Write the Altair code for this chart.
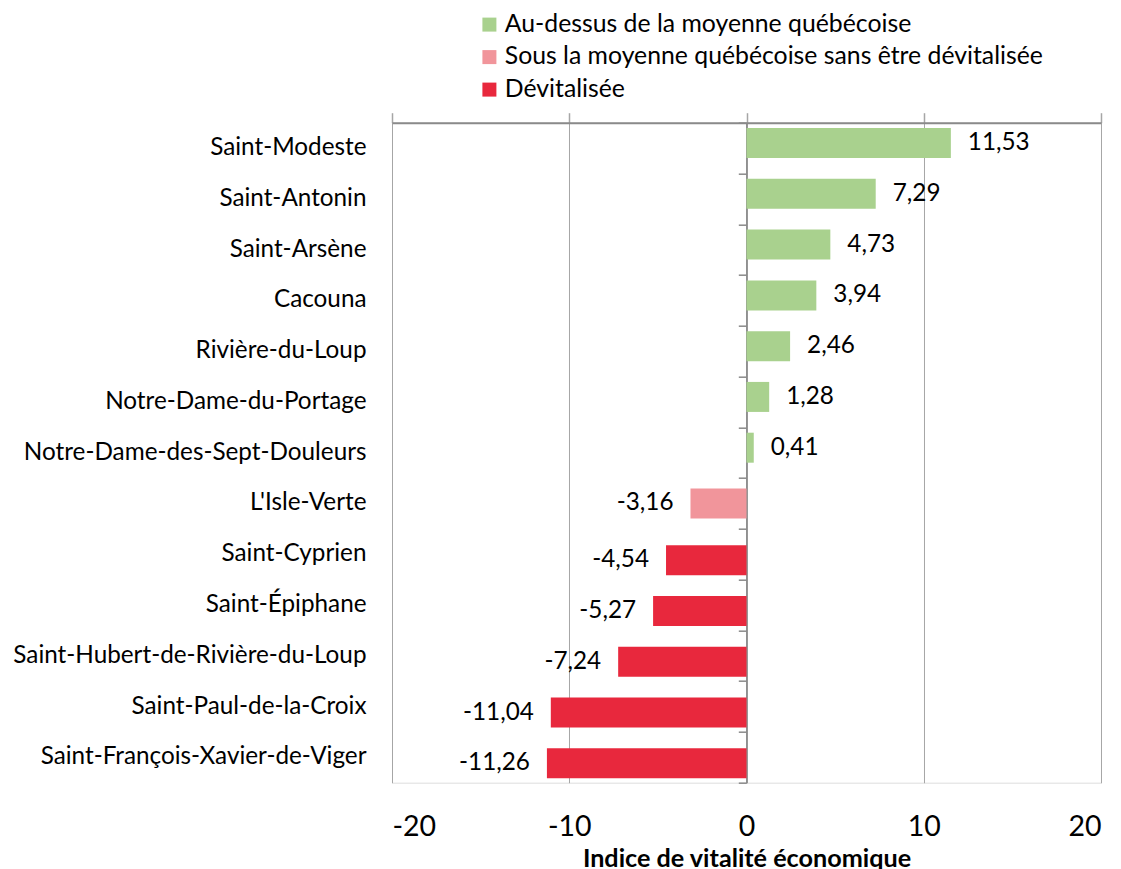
import altair as alt
import pandas as pd

municipalites = [
    "Saint-Modeste", "Saint-Antonin", "Saint-Arsène", "Cacouna", "Rivière-du-Loup",
    "Notre-Dame-du-Portage", "Notre-Dame-des-Sept-Douleurs", "L'Isle-Verte",
    "Saint-Cyprien", "Saint-Épiphane", "Saint-Hubert-de-Rivière-du-Loup",
    "Saint-Paul-de-la-Croix", "Saint-François-Xavier-de-Viger",
]
indices = [11.53, 7.29, 4.73, 3.94, 2.46, 1.28, 0.41, -3.16, -4.54, -5.27, -7.24, -11.04, -11.26]
statuts = ["Au-dessus de la moyenne québécoise"] * 7 + \
          ["Sous la moyenne québécoise sans être dévitalisée"] + ["Dévitalisée"] * 5

categories = ["Au-dessus de la moyenne québécoise",
              "Sous la moyenne québécoise sans être dévitalisée",
              "Dévitalisée"]
couleurs = ["#A9D18E", "#F1959B", "#E8283D"]
decalages = [-5, 0, 6]
x_ticks = [-20, -10, 0, 10, 20]

df = pd.DataFrame({
    "nom": municipalites,
    "indice": indices,
    "statut": statuts,
    "etiquette": [f"{v:.2f}".replace(".", ",") for v in indices],
})

FONT = "Lato"
xscale = alt.Scale(domain=[-20, 20], nice=False)
yscale = alt.Scale(domain=municipalites, paddingInner=0, paddingOuter=0)
cscale = alt.Scale(domain=categories, range=couleurs)

base = alt.Chart(df)

layers = []
for i, (cat, off) in enumerate(zip(categories, decalages)):
    sub = base.transform_filter(alt.datum.statut == cat)
    if i == 0:
        xax = alt.Axis(orient="bottom", values=x_ticks, labelExpr="datum.value + ''",
                       labelFontSize=28.5, labelFont=FONT, labelColor="black",
                       labelPadding=30, ticks=False, domain=False, grid=False,
                       title="Indice de vitalité économique", titleFont=FONT,
                       titleFontSize=25.2, titleFontWeight="bold", titleColor="black",
                       titlePadding=5)
        yax = alt.Axis(orient="left", labelFontSize=24.3, labelFont=FONT, labelColor="black",
                       labelPadding=26, ticks=False, domain=False, grid=False, title=None,
                       labelLimit=600)
    else:
        xax = None
        yax = None
    bar = sub.mark_bar(size=30, yOffset=off).encode(
        x=alt.X("indice:Q", scale=xscale, axis=xax),
        y=alt.Y("nom:N", scale=yscale, sort=municipalites, axis=yax),
        color=alt.Color("statut:N", scale=cscale, legend=alt.Legend(
            orient="none", legendX=85, legendY=-110.5, title=None,
            symbolType="square", symbolSize=196, symbolStrokeWidth=0,
            labelFontSize=24.8, labelFont=FONT, labelColor="black", labelLimit=800,
            labelOffset=3, rowPadding=6.5, symbolOpacity=1)),
    )
    layers.append(bar)
    positif = cat == categories[0]
    txt = sub.mark_text(align="left" if positif else "right",
                        dx=17 if positif else -17, yOffset=off,
                        fontSize=24.3, font=FONT, color="black", baseline="middle").encode(
        x=alt.X("indice:Q", scale=xscale, axis=None),
        y=alt.Y("nom:N", scale=yscale, sort=municipalites, axis=None),
        text="etiquette:N",
    )
    layers.append(txt)

# zero-line axis with band-boundary ticks, and top axis with outward ticks + grid
axes_layer = base.mark_point(opacity=0).encode(
    x=alt.X("indice:Q", scale=xscale, axis=alt.Axis(
        orient="top", values=x_ticks, labels=False, ticks=True, tickSize=10,
        tickColor="#a6a6a6", tickWidth=1.5, domain=True, domainColor="#8a8a8a",
        domainWidth=2, grid=True, gridColor="#a6a6a6", gridWidth=1, title=None)),
    y=alt.Y("nom:N", scale=yscale, sort=municipalites, axis=alt.Axis(
        orient="left", offset=-354.3, labels=False, ticks=True, tickBand="extent",
        tickSize=8, tickColor="#8a8a8a", tickWidth=1.5, domain=True,
        domainColor="#8a8a8a", domainWidth=1.5, grid=False, title=None)),
)
layers.insert(0, axes_layer)

chart = alt.layer(*layers).resolve_axis(x="independent", y="independent").properties(
    width=709, height=660,
    autosize=alt.AutoSizeParams(type="none"),
    padding={"left": 384, "top": 114.7, "right": 12, "bottom": 86},
).configure_view(stroke="#8a8a8a", strokeWidth=1.5).configure(background="white")

chart.save("out.html", embed_options={"renderer": "svg", "actions": False})
